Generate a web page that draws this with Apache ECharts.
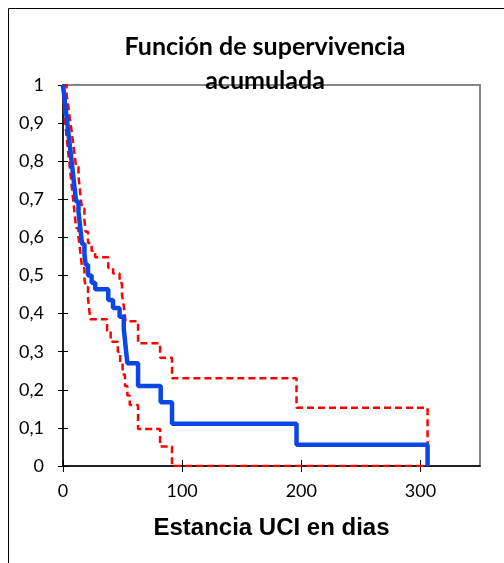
<!DOCTYPE html>
<html>
<head>
<meta charset="utf-8">
<script src="https://cdn.jsdelivr.net/npm/echarts@6/dist/echarts.min.js"></script>
<style>html,body{margin:0;padding:0;background:#fff;overflow:hidden}#chart{width:504px;height:563px}</style>
</head>
<body>
<div id="chart"></div>
<script>
// Kaplan-Meier survival estimate (time in days, survival)
const survTimes = [0,1,2,3,4,5,6,7,8,9,10,11,13,14,15,16,18,19,21,24,27,38,42,47.5,51,52,53,54,63,82,91.5,196,306];
const survValues = [1,0.972,0.944,0.917,0.889,0.861,0.833,0.806,0.778,0.75,0.722,0.694,0.667,0.639,0.611,0.583,0.556,0.528,0.5,0.481,0.464,0.436,0.415,0.392,0.36,0.33,0.30,0.27,0.21,0.167,0.111,0.056,0];
// Upper confidence bound
const upperTimes = [0,3,4,5,6,7,8,9,10,11,13,14,15,16,18,19,21,24,27,38,42,47.5,49.5,51,52.5,63,81.5,91.5,196,306];
const upperValues = [1,0.975,0.955,0.93,0.905,0.885,0.86,0.835,0.81,0.785,0.76,0.73,0.70,0.675,0.645,0.615,0.585,0.565,0.548,0.52,0.505,0.48,0.45,0.42,0.38,0.322,0.284,0.23,0.153,0];
// Lower confidence bound
const lowerTimes = [0,1,2,3,4,5,6,7,8,9,10,11,13,14,15,16,18,19,21,22,23,37,40,46,48,50,52,54,56,63,81.5,91.5,306];
const lowerValues = [1,0.93,0.895,0.865,0.835,0.805,0.775,0.745,0.715,0.685,0.655,0.625,0.60,0.575,0.55,0.52,0.49,0.47,0.44,0.41,0.385,0.355,0.326,0.30,0.27,0.24,0.21,0.185,0.16,0.097,0.051,0,0];

const xTicks = [0,100,200,300];
const titleText = 'Función de supervivencia\nacumulada';
const xName = 'Estancia UCI en dias';

const zip = (a,b) => a.map((t,i)=>[t,b[i]]);
const chart = echarts.init(document.getElementById('chart'), null, {renderer:'canvas'});
const labelFont = {fontFamily:'Lato', fontSize:18, color:'#000'};
chart.setOption({
  animation:false,
  backgroundColor:'#fff',
  title:{text:titleText, left:260, textAlign:'center', top:25,
    textStyle:{fontFamily:'Lato', fontWeight:'bold', fontSize:25, lineHeight:34, color:'#000'}},
  graphic:[{type:'rect', shape:{x:8.5,y:8.5,width:1000,height:1000}, style:{fill:null, stroke:'#000', lineWidth:1}, z:-10, silent:true}],
  grid:{left:63, right:24, top:85, bottom:97, show:true, borderColor:'#868686', borderWidth:2, backgroundColor:'transparent'},
  xAxis:[{type:'value', min:0, max:350, interval:100, name:xName, nameLocation:'middle', nameGap:50,
      nameTextStyle:{fontFamily:'Liberation Sans', fontWeight:'bold', fontSize:24, color:'#000'},
      axisLine:{show:true, onZero:false, lineStyle:{color:'#000', width:1.5}},
      axisTick:{show:true, length:6, customValues:xTicks, lineStyle:{color:'#000', width:1}},
      axisLabel:Object.assign({margin:16, customValues:xTicks}, labelFont),
      splitLine:{show:false}},
    {type:'value', min:0, max:350, interval:100, position:'bottom',
      axisLine:{show:false}, axisTick:{show:true, inside:true, length:6, customValues:xTicks, lineStyle:{color:'#000', width:1}},
      axisLabel:{show:false}, splitLine:{show:false}}],
  yAxis:[{type:'value', min:0, max:1, interval:0.1,
      axisLine:{show:true, onZero:false, lineStyle:{color:'#000', width:1.5}},
      axisTick:{show:true, length:5, lineStyle:{color:'#000', width:1}},
      axisLabel:Object.assign({margin:19, formatter:v=>String(+v.toFixed(1)).replace('.',',')}, labelFont),
      splitLine:{show:false}},
    {type:'value', min:0, max:1, interval:0.1, position:'left',
      axisLine:{show:false}, axisTick:{show:true, inside:true, length:5, lineStyle:{color:'#000', width:1}},
      axisLabel:{show:false}, splitLine:{show:false}}],
  series:[
    {type:'line', step:'end', data:zip(upperTimes, upperValues), showSymbol:false, symbol:'none',
      lineStyle:{color:'#ff0000', width:2.5, type:[7,4]}, z:2},
    {type:'line', step:'end', data:zip(lowerTimes, lowerValues), showSymbol:false, symbol:'none',
      lineStyle:{color:'#ff0000', width:2.5, type:[7,4]}, z:2},
    {type:'line', step:'end', data:zip(survTimes, survValues), showSymbol:false, symbol:'none',
      lineStyle:{color:'#0a47e8', width:4.5}, z:3}
  ]
});
</script>
</body>
</html>
